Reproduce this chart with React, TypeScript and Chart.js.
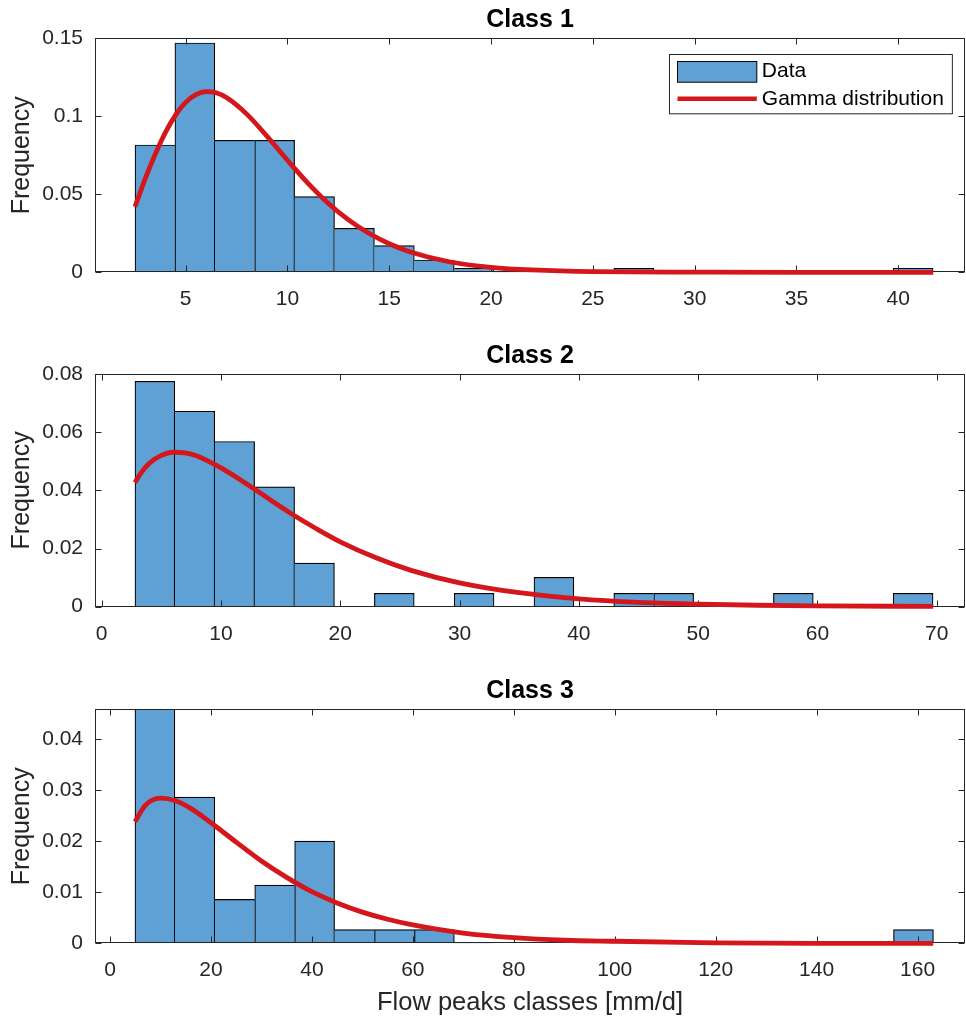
import React, { useEffect, useRef } from "react";
import { Chart, registerables } from "chart.js";

Chart.register(...registerables);

// ---------- Data ----------
// Class 1
const C1_BIN_CENTERS = [3.49, 5.45, 7.41, 9.37, 11.33, 13.29, 15.25, 17.21, 19.17, 21.13, 23.09, 25.05, 27.01, 28.97, 30.93, 32.89, 34.85, 36.81, 38.77, 40.73];
const C1_FREQ = [0.0816, 0.147, 0.0846, 0.0846, 0.0485, 0.0282, 0.0171, 0.0079, 0.0026, 0, 0, 0, 0.0026, 0, 0, 0, 0, 0, 0, 0.0026];
const C1_CURVE_X = [2.51, 3, 3.5, 4, 4.5, 5, 5.5, 6, 6.5, 7, 8, 9, 10, 11, 12, 13, 14, 15, 16, 18, 20, 22, 25, 30, 35, 41.72];
const C1_CURVE_Y = [0.042, 0.0596, 0.0756, 0.0896, 0.1008, 0.1089, 0.1139, 0.1158, 0.1151, 0.112, 0.1014, 0.0871, 0.0718, 0.0572, 0.0443, 0.0336, 0.025, 0.0183, 0.0132, 0.0066, 0.0032, 0.0015, 0.0004, 0.0001, 0, 0];
const C1_X_TICKS = [5, 10, 15, 20, 25, 30, 35, 40];
const C1_Y_TICKS = [0, 0.05, 0.1, 0.15];
const C1_X_RANGE = [0.545, 43.28];
const C1_Y_RANGE = [0, 0.15];

// Class 2
const C2_BIN_CENTERS = [4.46, 7.81, 11.15, 14.5, 17.84, 21.19, 24.53, 27.88, 31.22, 34.57, 37.91, 41.26, 44.6, 47.95, 51.29, 54.64, 57.98, 61.33, 64.67, 68.02];
const C2_FREQ = [0.0775, 0.0672, 0.0568, 0.0412, 0.015, 0, 0.0046, 0, 0.0046, 0, 0.0101, 0, 0.0046, 0.0046, 0, 0, 0.0046, 0, 0, 0.0046];
const C2_CURVE_X = [2.79, 3.3, 4, 5, 6, 7, 8, 10, 12, 14, 16, 18, 20, 23, 26, 30, 35, 40, 45, 50, 55, 60, 69.7];
const C2_CURVE_Y = [0.0427, 0.046, 0.0493, 0.052, 0.0531, 0.0529, 0.0518, 0.0477, 0.0426, 0.0371, 0.0317, 0.0268, 0.0223, 0.0168, 0.0124, 0.0082, 0.0048, 0.0027, 0.0015, 0.0009, 0.0005, 0.0003, 0.0001];
const C2_X_TICKS = [0, 10, 20, 30, 40, 50, 60, 70];
const C2_Y_TICKS = [0, 0.02, 0.04, 0.06, 0.08];
const C2_X_RANGE = [-0.56, 72.37];
const C2_Y_RANGE = [0, 0.08];

// Class 3
const C3_BIN_CENTERS = [8.9, 16.81, 24.72, 32.63, 40.54, 48.45, 56.36, 64.27, 72.18, 80.09, 88.0, 95.91, 103.82, 111.73, 119.64, 127.55, 135.46, 143.37, 151.28, 159.19];
const C3_FREQ = [0.0475, 0.0286, 0.0086, 0.0114, 0.02, 0.0027, 0.0027, 0.0027, 0, 0, 0, 0, 0, 0, 0, 0, 0, 0, 0, 0.0027];
const C3_CURVE_X = [4.94, 7, 10, 13, 16, 20, 25, 30, 35, 40, 45, 50, 55, 60, 70, 80, 90, 100, 120, 140, 163.1];
const C3_CURVE_Y = [0.0238, 0.027, 0.0284, 0.0279, 0.0264, 0.0236, 0.0198, 0.0161, 0.0129, 0.0101, 0.0079, 0.0061, 0.0047, 0.0036, 0.002, 0.0011, 0.0006, 0.0004, 0.0001, 0, 0];
const C3_X_TICKS = [0, 20, 40, 60, 80, 100, 120, 140, 160];
const C3_Y_TICKS = [0, 0.01, 0.02, 0.03, 0.04];
const C3_X_RANGE = [-2.97, 169.4];
const C3_Y_RANGE = [0, 0.0458];

const TITLES = ["Class 1", "Class 2", "Class 3"];
const Y_LABEL = "Frequency";
const X_LABEL = "Flow peaks classes [mm/d]";
const LEGEND_LABELS = ["Data", "Gamma distribution"];

// ---------- Styles ----------
const FONT = '"Liberation Sans", Arial, Helvetica, sans-serif';
const AXIS_COLOR = "#262626";
const BAR_FILL = "#5FA1D5";
const BAR_EDGE = "#000000";
const CURVE_COLOR = "#D4161D";
const WIDTH = 966;

type Panel = {
  title: string;
  centers: number[];
  freq: number[];
  curveX: number[];
  curveY: number[];
  xTicks: number[];
  yTicks: number[];
  xRange: number[];
  yRange: number[];
  legend: boolean;
  xTitle: boolean;
  top: number;
  height: number;
  titlePad: { top: number; bottom: number };
  xScaleHeight: number;
};

const PANELS: Panel[] = [
  {
    title: TITLES[0], centers: C1_BIN_CENTERS, freq: C1_FREQ, curveX: C1_CURVE_X, curveY: C1_CURVE_Y,
    xTicks: C1_X_TICKS, yTicks: C1_Y_TICKS, xRange: C1_X_RANGE, yRange: C1_Y_RANGE,
    legend: true, xTitle: false, top: 0, height: 330, titlePad: { top: 5.6, bottom: 2.7 }, xScaleHeight: 57.7,
  },
  {
    title: TITLES[1], centers: C2_BIN_CENTERS, freq: C2_FREQ, curveX: C2_CURVE_X, curveY: C2_CURVE_Y,
    xTicks: C2_X_TICKS, yTicks: C2_Y_TICKS, xRange: C2_X_RANGE, yRange: C2_Y_RANGE,
    legend: false, xTitle: false, top: 330, height: 330, titlePad: { top: 11.6, bottom: 2.4 }, xScaleHeight: 53.3,
  },
  {
    title: TITLES[2], centers: C3_BIN_CENTERS, freq: C3_FREQ, curveX: C3_CURVE_X, curveY: C3_CURVE_Y,
    xTicks: C3_X_TICKS, yTicks: C3_Y_TICKS, xRange: C3_X_RANGE, yRange: C3_Y_RANGE,
    legend: false, xTitle: true, top: 660, height: 361, titlePad: { top: 16.6, bottom: 2.7 }, xScaleHeight: 77.7,
  },
];

// Axes box with inward ticks on all four sides (drawn after the bars, before the curve)
const boxPlugin = {
  id: "matlabBox",
  afterDatasetDraw(chart: any, args: any) {
    const ds = chart.data.datasets[args.index];
    if (ds.type !== "bar") return;
    const { ctx, chartArea: a, scales } = chart;
    const l = Math.round(a.left) + 0.5;
    const r = Math.round(a.right) - 0.5;
    const t = Math.round(a.top) + 0.5;
    const b = Math.round(a.bottom) - 0.5;
    const TL = 6;
    ctx.save();
    ctx.strokeStyle = AXIS_COLOR;
    ctx.lineWidth = 1;
    ctx.strokeRect(l, t, r - l, b - t);
    ctx.beginPath();
    for (const tk of scales.x.ticks) {
      const px = Math.round(scales.x.getPixelForValue(tk.value)) + 0.5;
      ctx.moveTo(px, b);
      ctx.lineTo(px, b - TL);
      ctx.moveTo(px, t);
      ctx.lineTo(px, t + TL);
    }
    for (const tk of scales.y.ticks) {
      const py = Math.round(scales.y.getPixelForValue(tk.value)) + 0.5;
      ctx.moveTo(l, py);
      ctx.lineTo(l + TL, py);
      ctx.moveTo(r, py);
      ctx.lineTo(r - TL, py);
    }
    ctx.stroke();
    ctx.restore();
  },
};

// MATLAB-like boxed legend in the top-right corner of the axes
const legendPlugin = {
  id: "matlabLegend",
  afterDraw(chart: any) {
    if (!chart.options.plugins.matlabLegend?.show) return;
    const { ctx, chartArea: a } = chart;
    ctx.save();
    ctx.font = `21px ${FONT}`;
    const textW = Math.max(...LEGEND_LABELS.map((s) => ctx.measureText(s).width));
    const padL = 7.3, patchW = 79.3, gap = 5.7, padR = 8.5;
    const w = padL + patchW + gap + textW + padR;
    const h = 59.3;
    const x0 = Math.round(a.right - 12.7 - w) + 0.5;
    const y0 = Math.round(a.top + 16) + 0.5;
    ctx.fillStyle = "#ffffff";
    ctx.fillRect(x0, y0, w, h);
    ctx.strokeStyle = AXIS_COLOR;
    ctx.lineWidth = 1;
    ctx.strokeRect(x0, y0, w, h);
    // patch
    const px = Math.round(x0 + padL) + 0.5;
    const py = Math.round(y0 + 6) + 0.5;
    ctx.fillStyle = BAR_FILL;
    ctx.fillRect(px, py, patchW, 20.7);
    ctx.strokeStyle = BAR_EDGE;
    ctx.strokeRect(px, py, patchW, 20.7);
    // line
    ctx.strokeStyle = CURVE_COLOR;
    ctx.lineWidth = 4.5;
    ctx.beginPath();
    ctx.moveTo(px, y0 + 44.3);
    ctx.lineTo(px + patchW, y0 + 44.3);
    ctx.stroke();
    // text
    ctx.fillStyle = "#000000";
    ctx.textAlign = "left";
    ctx.textBaseline = "middle";
    const tx = x0 + padL + patchW + gap;
    ctx.fillText(LEGEND_LABELS[0], tx, y0 + 16.6);
    ctx.fillText(LEGEND_LABELS[1], tx, y0 + 44.3);
    ctx.restore();
  },
};

function fmt(v: number) {
  return String(parseFloat(Number(v).toFixed(4)));
}

function buildConfig(p: Panel): any {
  const freq = p.freq;
  return {
    type: "bar",
    data: {
      datasets: [
        {
          type: "line",
          label: LEGEND_LABELS[1],
          data: p.curveX.map((x, i) => ({ x, y: p.curveY[i] })),
          borderColor: CURVE_COLOR,
          borderWidth: 4.8,
          pointRadius: 0,
          cubicInterpolationMode: "monotone",
          fill: false,
          order: 0,
          clip: false,
        },
        {
          type: "bar",
          label: LEGEND_LABELS[0],
          data: p.centers.map((x, i) => ({ x, y: freq[i] })),
          backgroundColor: BAR_FILL,
          borderColor: BAR_EDGE,
          borderSkipped: "start",
          borderWidth: (c: any) => {
            const i = c.dataIndex;
            const cur = freq[i];
            const prev = freq[i - 1];
            const next = freq[i + 1];
            return {
              top: 1.2,
              bottom: 0,
              left: prev === undefined || prev <= cur ? 1.2 : 0,
              right: next === undefined || next < cur ? 1.2 : 0,
            };
          },
          barPercentage: 1,
          categoryPercentage: 1,
          grouped: false,
          order: 1,
          clip: 0,
        },
      ],
    },
    options: {
      animation: false,
      responsive: false,
      devicePixelRatio: 1,
      events: [],
      layout: { padding: { left: 0, right: 1, top: 0, bottom: 0 } },
      plugins: {
        legend: { display: false },
        tooltip: { enabled: false },
        matlabLegend: { show: p.legend },
        title: {
          display: true,
          text: p.title,
          color: "#000000",
          fullSize: false,
          font: { family: FONT, size: 25, weight: "bold", lineHeight: 1.2 },
          padding: p.titlePad,
        },
      },
      scales: {
        x: {
          type: "linear",
          offset: false,
          min: p.xRange[0],
          max: p.xRange[1],
          grid: { display: false, drawTicks: false, tickLength: 0, offset: false },
          border: { display: false },
          ticks: {
            color: AXIS_COLOR,
            font: { family: FONT, size: 21 },
            padding: 14.5,
            maxRotation: 0,
            autoSkip: false,
            callback: (v: number) => fmt(v),
          },
          afterBuildTicks: (s: any) => {
            s.ticks = p.xTicks.map((v) => ({ value: v }));
          },
          afterFit: (s: any) => {
            s.height = p.xScaleHeight;
          },
          title: {
            display: p.xTitle,
            text: X_LABEL,
            color: AXIS_COLOR,
            font: { family: FONT, size: 25.5, lineHeight: 1.2 },
            padding: { top: 0, bottom: 2.7 },
          },
        },
        y: {
          type: "linear",
          min: p.yRange[0],
          max: p.yRange[1],
          grid: { display: false, drawTicks: false, tickLength: 0 },
          border: { display: false },
          ticks: {
            color: AXIS_COLOR,
            font: { family: FONT, size: 21 },
            padding: 12,
            autoSkip: false,
            callback: (v: number) => fmt(v),
          },
          afterBuildTicks: (s: any) => {
            s.ticks = p.yTicks.map((v) => ({ value: v }));
          },
          afterFit: (s: any) => {
            s.width = 95;
          },
          title: {
            display: true,
            text: Y_LABEL,
            color: AXIS_COLOR,
            font: { family: FONT, size: 25, lineHeight: 1.2 },
            padding: { top: 6.7, bottom: 0 },
          },
        },
      },
    },
    plugins: [boxPlugin, legendPlugin],
  };
}

function PanelChart({ p }: { p: Panel }) {
  const ref = useRef<HTMLCanvasElement | null>(null);
  useEffect(() => {
    if (!ref.current) return;
    const chart = new Chart(ref.current, buildConfig(p));
    return () => chart.destroy();
  }, [p]);
  return (
    <canvas
      ref={ref}
      width={WIDTH}
      height={p.height}
      style={{ position: "absolute", left: 0, top: p.top, width: WIDTH, height: p.height, display: "block" }}
    />
  );
}

export default function App() {
  return (
    <div
      style={{
        position: "absolute",
        left: 0,
        top: 0,
        width: WIDTH,
        height: 1021,
        background: "#ffffff",
        overflow: "hidden",
      }}
    >
      {PANELS.map((p, i) => (
        <PanelChart key={i} p={p} />
      ))}
    </div>
  );
}
